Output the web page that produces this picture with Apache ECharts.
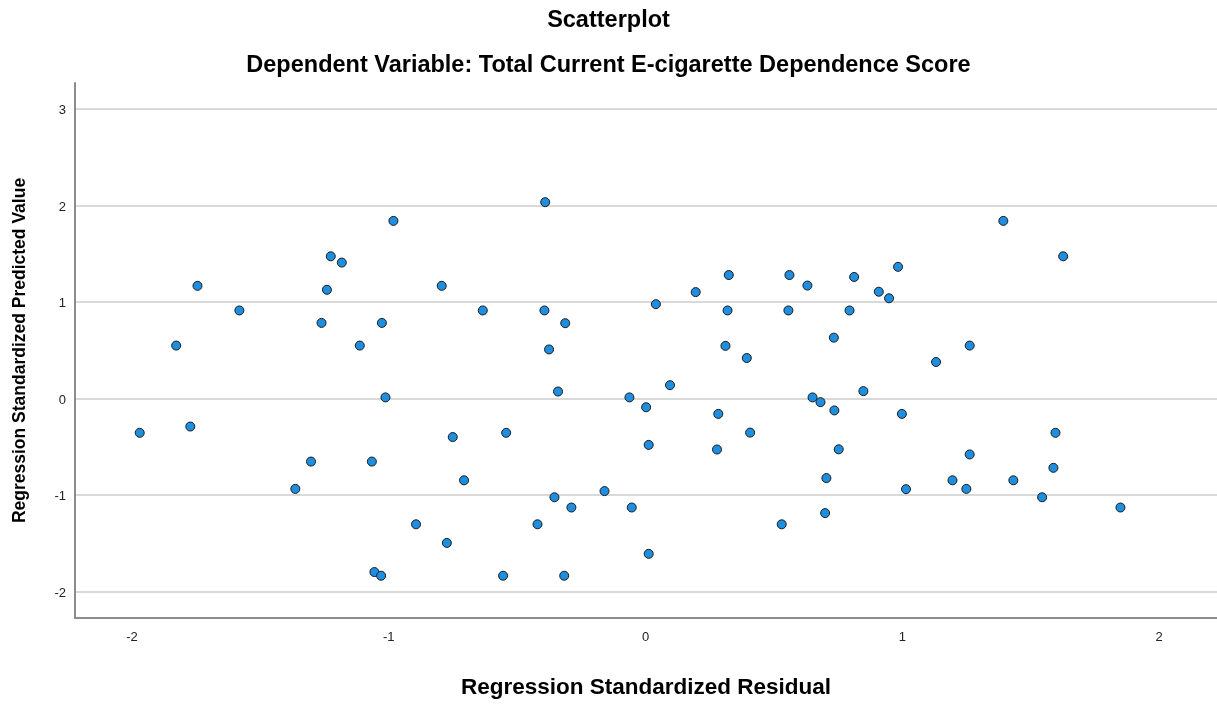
<!DOCTYPE html>
<html>
<head>
<meta charset="utf-8">
<title>Scatterplot</title>
<script src="https://cdn.jsdelivr.net/npm/echarts@6/dist/echarts.min.js"></script>
<style>
  html, body { margin: 0; padding: 0; background: #ffffff; overflow: hidden; }
  #chart { width: 1217px; height: 704px; }
</style>
</head>
<body>
<div id="chart"></div>
<script>
// Regression standardized residuals (x) and standardized predicted values (y)
const residuals = [
  -1.970, -1.828, -1.773, -1.745, -1.582, -1.364, -1.303, -1.262, -1.241, -1.226,
  -1.183, -1.113, -1.066, -1.056, -1.030, -1.027, -1.013, -0.982, -0.894, -0.794,
  -0.774, -0.751, -0.707, -0.634, -0.555, -0.543, -0.421, -0.394, -0.391, -0.376,
  -0.355, -0.341, -0.317, -0.313, -0.289, -0.160, -0.063, -0.054, 0.002, 0.012,
  0.012, 0.040, 0.095, 0.195, 0.278, 0.283, 0.311, 0.319, 0.324, 0.394,
  0.407, 0.530, 0.556, 0.560, 0.630, 0.650, 0.681, 0.699, 0.704, 0.733,
  0.735, 0.752, 0.794, 0.812, 0.848, 0.908, 0.948, 0.983, 0.998, 1.014,
  1.131, 1.195, 1.249, 1.262, 1.262, 1.393, 1.432, 1.544, 1.588, 1.596,
  1.626, 1.849
];
const predicted = [
  -0.355, 0.549, -0.290, 1.168, 0.913, -0.936, -0.653, 0.784, 1.127, 1.474,
  1.409, 0.549, -0.653, -1.798, -1.836, 0.784, 0.012, 1.841, -1.303, 1.168,
  -1.496, -0.399, -0.847, 0.913, -1.836, -0.355, -1.303, 0.913, 2.035, 0.509,
  -1.023, 0.073, -1.836, 0.781, -1.129, -0.959, 0.012, -1.129, -0.090, -0.480,
  -1.609, 0.978, 0.139, 1.103, -0.528, -0.159, 0.546, 0.913, 1.280, 0.420,
  -0.353, -1.303, 0.913, 1.280, 1.171, 0.012, -0.037, -1.187, -0.824, 0.631,
  -0.123, -0.526, 0.913, 1.260, 0.077, 1.107, 1.039, 1.365, -0.159, -0.939,
  0.379, -0.847, -0.936, 0.549, -0.579, 1.841, -0.847, -1.023, -0.718, -0.355,
  1.474, -1.129
];
const xTicks = [-2, -1, 0, 1, 2];
const yTicks = [-2, -1, 0, 1, 2, 3];

const points = residuals.map((r, i) => [r, predicted[i]]);

const chart = echarts.init(document.getElementById('chart'), null, { renderer: 'canvas' });
const fontFamily = 'Arial, "Liberation Sans", Helvetica, sans-serif';

chart.setOption({
  animation: false,
  backgroundColor: '#ffffff',
  title: [
    {
      text: 'Scatterplot',
      left: 'center',
      top: 4,
      textStyle: { fontFamily, fontWeight: 'bold', fontSize: 23.5, color: '#000000' }
    },
    {
      text: 'Dependent Variable: Total Current E-cigarette Dependence Score',
      left: 'center',
      top: 49,
      textStyle: { fontFamily, fontWeight: 'bold', fontSize: 23.5, color: '#000000' }
    }
  ],
  grid: { left: 75, right: 0, top: 83, bottom: 77, containLabel: false },
  xAxis: {
    type: 'value',
    min: -2.222,
    max: 2.225,
    name: 'Regression Standardized Residual',
    nameLocation: 'middle',
    nameGap: 58,
    nameTextStyle: { fontFamily, fontWeight: 'bold', fontSize: 22.5, color: '#000000' },
    axisLine: { show: true, onZero: false, lineStyle: { color: '#8c8c8c', width: 2 } },
    axisTick: { show: false, customValues: xTicks },
    axisLabel: { customValues: xTicks, fontFamily, fontSize: 13, color: '#222222', margin: 13 },
    splitLine: { show: false }
  },
  yAxis: {
    type: 'value',
    min: -2.274,
    max: 3.27,
    name: 'Regression Standardized Predicted Value',
    nameLocation: 'middle',
    nameGap: 46,
    nameTextStyle: { fontFamily, fontWeight: 'bold', fontSize: 17.5, color: '#000000' },
    axisLine: { show: true, onZero: false, lineStyle: { color: '#8c8c8c', width: 2 } },
    axisTick: { show: false, customValues: yTicks },
    axisLabel: { customValues: yTicks, fontFamily, fontSize: 13, color: '#222222', margin: 9, verticalAlign: 'top', padding: [-5, 0, 0, 0] },
    splitLine: { show: true, lineStyle: { color: '#cccccc', width: 1.5 } }
  },
  series: [
    {
      type: 'scatter',
      data: points,
      symbol: 'circle',
      symbolSize: 9,
      itemStyle: { color: '#1e8fe0', borderColor: '#1a1a1a', borderWidth: 1, opacity: 1 }
    }
  ]
});
</script>
</body>
</html>
